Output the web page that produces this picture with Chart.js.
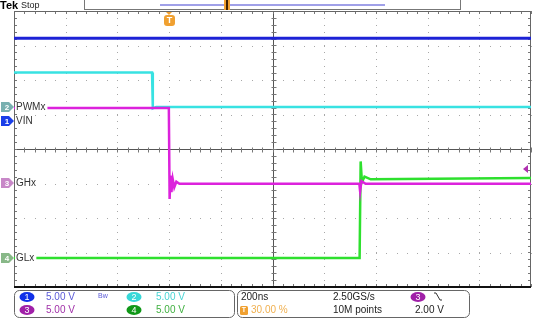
<!DOCTYPE html>
<html>
<head>
<meta charset="utf-8">
<script src="https://cdn.jsdelivr.net/npm/chart.js@4.4.0/dist/chart.umd.min.js"></script>
<style>
html,body{margin:0;padding:0;background:#fff;}
canvas{display:block;}
</style>
</head>
<body>
<canvas id="scope" width="551" height="330"></canvas>
<script>
// time in ns, trigger at 0, 200 ns/div, 10 divisions
var timeMin = -600, timeMax = 1400, timeDiv = 200;
var divMin = -4, divMax = 4;

// Ch1 VIN
var vinTime  = [-600, 1400];
var vinVolts = [12.0, 12.0];
// Ch2 PWMx
var pwmTime  = [-600, -66, -63, -50, 1400];
var pwmVolts = [5.0, 5.0, -0.2, 0.0, 0.0];
// Ch3 GHx
var ghTime  = [-600, -1, 2, 5, 9, 14, 20, 28, 40, 736, 739, 744, 760, 1400];
var ghVolts = [10.9, 10.9, -2.3, 1.1, -1.3, 0.6, -0.6, 0.2, -0.1, -0.1, -1.2, 0.3, -0.1, -0.1];
// Ch4 GLx
var glTime  = [-600, 737, 741, 746, 756, 780, 1400];
var glVolts = [0.0, 0.0, 14.0, 11.0, 11.8, 11.4, 11.6];

var triggerLevel = 2.0; // V on ch3
var voltsPerDiv = 5.0;

// channel setup (ground offset in divisions, colours)
var channels = [
  {num: '1', label: 'VIN',  off: 0.81,  color: '#1c22d6', width: 3,   badge: '#1a3ee8', text: '#5a5ad8', t: vinTime, v: vinVolts},
  {num: '3', label: 'GHx',  off: -0.99, color: '#dc22dc', width: 2.5, badge: '#c888c8', text: '#a030a8', t: ghTime,  v: ghVolts},
  {num: '2', label: 'PWMx', off: 1.22,  color: '#38e2e2', width: 2.5, badge: '#78b0b0', text: '#48d4d4', t: pwmTime, v: pwmVolts},
  {num: '4', label: 'GLx',  off: -3.16, color: '#2ee02e', width: 2.5, badge: '#88b888', text: '#40b040', t: glTime,  v: glVolts}
];

function toPoints(ch) {
  var pts = [];
  for (var i = 0; i < ch.t.length; i++) {
    pts.push({x: ch.t[i], y: ch.off + ch.v[i] / voltsPerDiv});
  }
  return pts;
}

var datasets = channels.map(function(ch) {
  return {
    label: ch.label,
    data: toPoints(ch),
    borderColor: ch.color,
    borderWidth: ch.width,
    pointRadius: 0,
    tension: 0,
    fill: false
  };
});

var FONT = '"Liberation Sans", Arial, sans-serif';

// graticule: dotted divisions, centre cross and border ticks
var graticule = {
  id: 'graticule',
  beforeDatasetsDraw: function(chart) {
    var c = chart.ctx, a = chart.chartArea;
    var xs = chart.scales.x, ys = chart.scales.y;
    var sub = timeDiv / 5;
    c.save();
    c.fillStyle = '#a8a8a8';
    // dots on vertical division lines
    for (var t = timeMin + timeDiv; t < timeMax; t += timeDiv) {
      if (t === 400) continue;
      var px = Math.round(xs.getPixelForValue(t));
      for (var d = divMin; d <= divMax + 0.001; d += 0.2) {
        c.fillRect(px, Math.round(ys.getPixelForValue(d)), 1, 1);
      }
    }
    // dots on horizontal division lines
    for (var dv = divMin + 1; dv < divMax; dv++) {
      if (dv === 0) continue;
      var py = Math.round(ys.getPixelForValue(dv));
      for (var tt = timeMin; tt <= timeMax; tt += sub) {
        c.fillRect(Math.round(xs.getPixelForValue(tt)), py, 1, 1);
      }
    }
    // centre cross
    var cx = Math.round(xs.getPixelForValue(400)) + 0.5;
    var cy = Math.round(ys.getPixelForValue(0)) + 0.5;
    c.strokeStyle = '#555';
    c.lineWidth = 1;
    c.beginPath();
    c.moveTo(a.left, cy); c.lineTo(a.right, cy);
    c.moveTo(cx, a.top); c.lineTo(cx, a.bottom);
    c.stroke();
    c.strokeStyle = '#777';
    c.beginPath();
    for (var t2 = timeMin; t2 <= timeMax; t2 += sub) {
      var x2 = Math.round(xs.getPixelForValue(t2)) + 0.5;
      c.moveTo(x2, cy - 2); c.lineTo(x2, cy + 3);
      c.moveTo(x2, a.top); c.lineTo(x2, a.top + 3);
      c.moveTo(x2, a.bottom); c.lineTo(x2, a.bottom - 3);
    }
    for (var d2 = divMin; d2 <= divMax + 0.001; d2 += 0.2) {
      var y2 = Math.round(ys.getPixelForValue(d2)) + 0.5;
      c.moveTo(cx - 2, y2); c.lineTo(cx + 3, y2);
      c.moveTo(a.left, y2); c.lineTo(a.left + 3, y2);
      c.moveTo(a.right, y2); c.lineTo(a.right - 3, y2);
    }
    c.stroke();
    // border
    c.strokeStyle = '#666';
    c.beginPath();
    c.moveTo(a.left + 0.5, a.bottom); c.lineTo(a.left + 0.5, a.top + 0.5);
    c.lineTo(a.right - 0.5, a.top + 0.5); c.lineTo(a.right - 0.5, a.bottom);
    c.stroke();
    c.fillStyle = '#111';
    c.fillRect(a.left, a.bottom - 1, a.right - a.left, 2);
    c.restore();
  },
  afterDatasetsDraw: function(chart) {
    var c = chart.ctx, a = chart.chartArea;
    var xs = chart.scales.x, ys = chart.scales.y;
    c.save();
    c.textBaseline = 'middle';
    // channel markers + labels
    channels.forEach(function(ch) {
      var y = Math.round(ys.getPixelForValue(ch.off));
      c.font = '10px ' + FONT;
      var w = c.measureText(ch.label).width;
      c.fillStyle = '#fff';
      c.fillRect(a.left + 1, y - 5, w + 3, 11);
      c.fillStyle = '#333';
      c.textAlign = 'left';
      c.fillText(ch.label, a.left + 2, y + 0.5);
      c.fillStyle = ch.badge;
      c.beginPath();
      c.moveTo(1, y - 5); c.lineTo(9, y - 5); c.lineTo(14, y);
      c.lineTo(9, y + 5); c.lineTo(1, y + 5); c.closePath();
      c.fill();
      c.fillStyle = '#fff';
      c.font = 'bold 8px ' + FONT;
      c.textAlign = 'center';
      c.fillText(ch.num, 7, y + 0.5);
    });
    // trigger position marker
    var tx = Math.round(xs.getPixelForValue(0));
    c.fillStyle = '#f0a030';
    c.beginPath();
    c.moveTo(tx - 3, a.top + 1); c.lineTo(tx + 3, a.top + 1); c.lineTo(tx, a.top + 4);
    c.closePath(); c.fill();
    c.beginPath();
    c.roundRect(tx - 5, a.top + 4, 11, 11, 3);
    c.fill();
    c.fillStyle = '#fff';
    c.font = 'bold 9px ' + FONT;
    c.textAlign = 'center';
    c.fillText('T', tx + 0.5, a.top + 10);
    // trigger level arrow (ch3)
    var ty = Math.round(ys.getPixelForValue(channels[1].off + triggerLevel / voltsPerDiv));
    c.fillStyle = '#b030b0';
    c.beginPath();
    c.moveTo(a.right - 8, ty); c.lineTo(a.right - 3, ty - 4); c.lineTo(a.right - 3, ty + 4);
    c.closePath(); c.fill();
    c.restore();
  },
  afterDraw: function(chart) {
    var c = chart.ctx;
    c.save();
    c.textBaseline = 'middle';
    c.textAlign = 'left';
    // top status bar
    c.fillStyle = '#000';
    c.font = 'bold 11px ' + FONT;
    c.fillText('Tek', 0, 6);
    c.font = '9px ' + FONT;
    c.fillStyle = '#222';
    c.fillText('Stop', 21, 6);
    c.strokeStyle = '#777';
    c.lineWidth = 1;
    c.strokeRect(84.5, -0.5, 376, 10);
    c.strokeStyle = '#8080e0';
    c.lineWidth = 1.5;
    c.beginPath(); c.moveTo(160, 5); c.lineTo(385, 5); c.stroke();
    c.fillStyle = '#f0a030';
    c.fillRect(224, 0, 6, 10);
    c.fillStyle = '#402000';
    c.fillRect(226, 0, 2, 10);

    // bottom readout panels
    c.strokeStyle = '#666';
    c.lineWidth = 1;
    c.beginPath(); c.roundRect(14.5, 290.5, 220, 27, 5); c.stroke();
    c.beginPath(); c.roundRect(237.5, 290.5, 232, 27, 5); c.stroke();

    function badge(x, y, num, col) {
      c.fillStyle = col;
      c.beginPath(); c.ellipse(x, y, 7.5, 5, 0, 0, Math.PI * 2); c.fill();
      c.fillStyle = '#fff';
      c.font = '9px ' + FONT;
      c.textAlign = 'center';
      c.fillText(num, x, y + 0.5);
      c.textAlign = 'left';
    }
    var r1 = 297, r2 = 310;
    badge(27, r1, '1', '#1030e8');
    badge(27, r2, '3', '#a020a8');
    badge(134, r1, '2', '#38d8d8');
    badge(134, r2, '4', '#109818');
    c.font = '10px ' + FONT;
    c.fillStyle = channels[0].text; c.fillText('5.00 V', 46, r1);
    c.fillStyle = channels[1].text; c.fillText('5.00 V', 46, r2);
    c.fillStyle = channels[2].text; c.fillText('5.00 V', 156, r1);
    c.fillStyle = channels[3].text; c.fillText('5.00 V', 156, r2);
    c.font = '7px ' + FONT;
    c.fillStyle = '#5a5ad8';
    c.fillText('Bw', 98, r1 - 1);

    c.font = '10px ' + FONT;
    c.fillStyle = '#222';
    c.fillText('200ns', 241, r1);
    c.fillText('2.50GS/s', 333, r1);
    c.fillText('10M points', 333, r2);
    c.fillText('2.00 V', 415, r2);
    c.fillStyle = '#f0a030';
    c.beginPath(); c.roundRect(240, r2 - 4, 8, 9, 1.5); c.fill();
    c.fillStyle = '#fff';
    c.font = 'bold 7px ' + FONT;
    c.textAlign = 'center';
    c.fillText('T', 244, r2 + 0.5);
    c.textAlign = 'left';
    c.font = '10px ' + FONT;
    c.fillStyle = '#f0b050';
    c.fillText('30.00 %', 251, r2);
    badge(418, r1, '3', '#a020a8');
    c.strokeStyle = '#333';
    c.lineWidth = 1;
    c.beginPath(); c.moveTo(434, r1 - 4); c.lineTo(436, r1 - 4); c.lineTo(440, r1 + 3); c.lineTo(442, r1 + 3); c.stroke();
    c.restore();
  }
};

var ctx = document.getElementById('scope').getContext('2d');
var scopeChart = new Chart(ctx, {
  type: 'line',
  data: {datasets: datasets},
  options: {
    responsive: false,
    devicePixelRatio: 1,
    animation: false,
    layout: {padding: {left: 14, top: 11, right: 20, bottom: 43}},
    plugins: {legend: {display: false}, tooltip: {enabled: false}},
    scales: {
      x: {type: 'linear', min: timeMin, max: timeMax, display: false},
      y: {type: 'linear', min: divMin, max: divMax, display: false}
    }
  },
  plugins: [graticule]
});
</script>
</body>
</html>
